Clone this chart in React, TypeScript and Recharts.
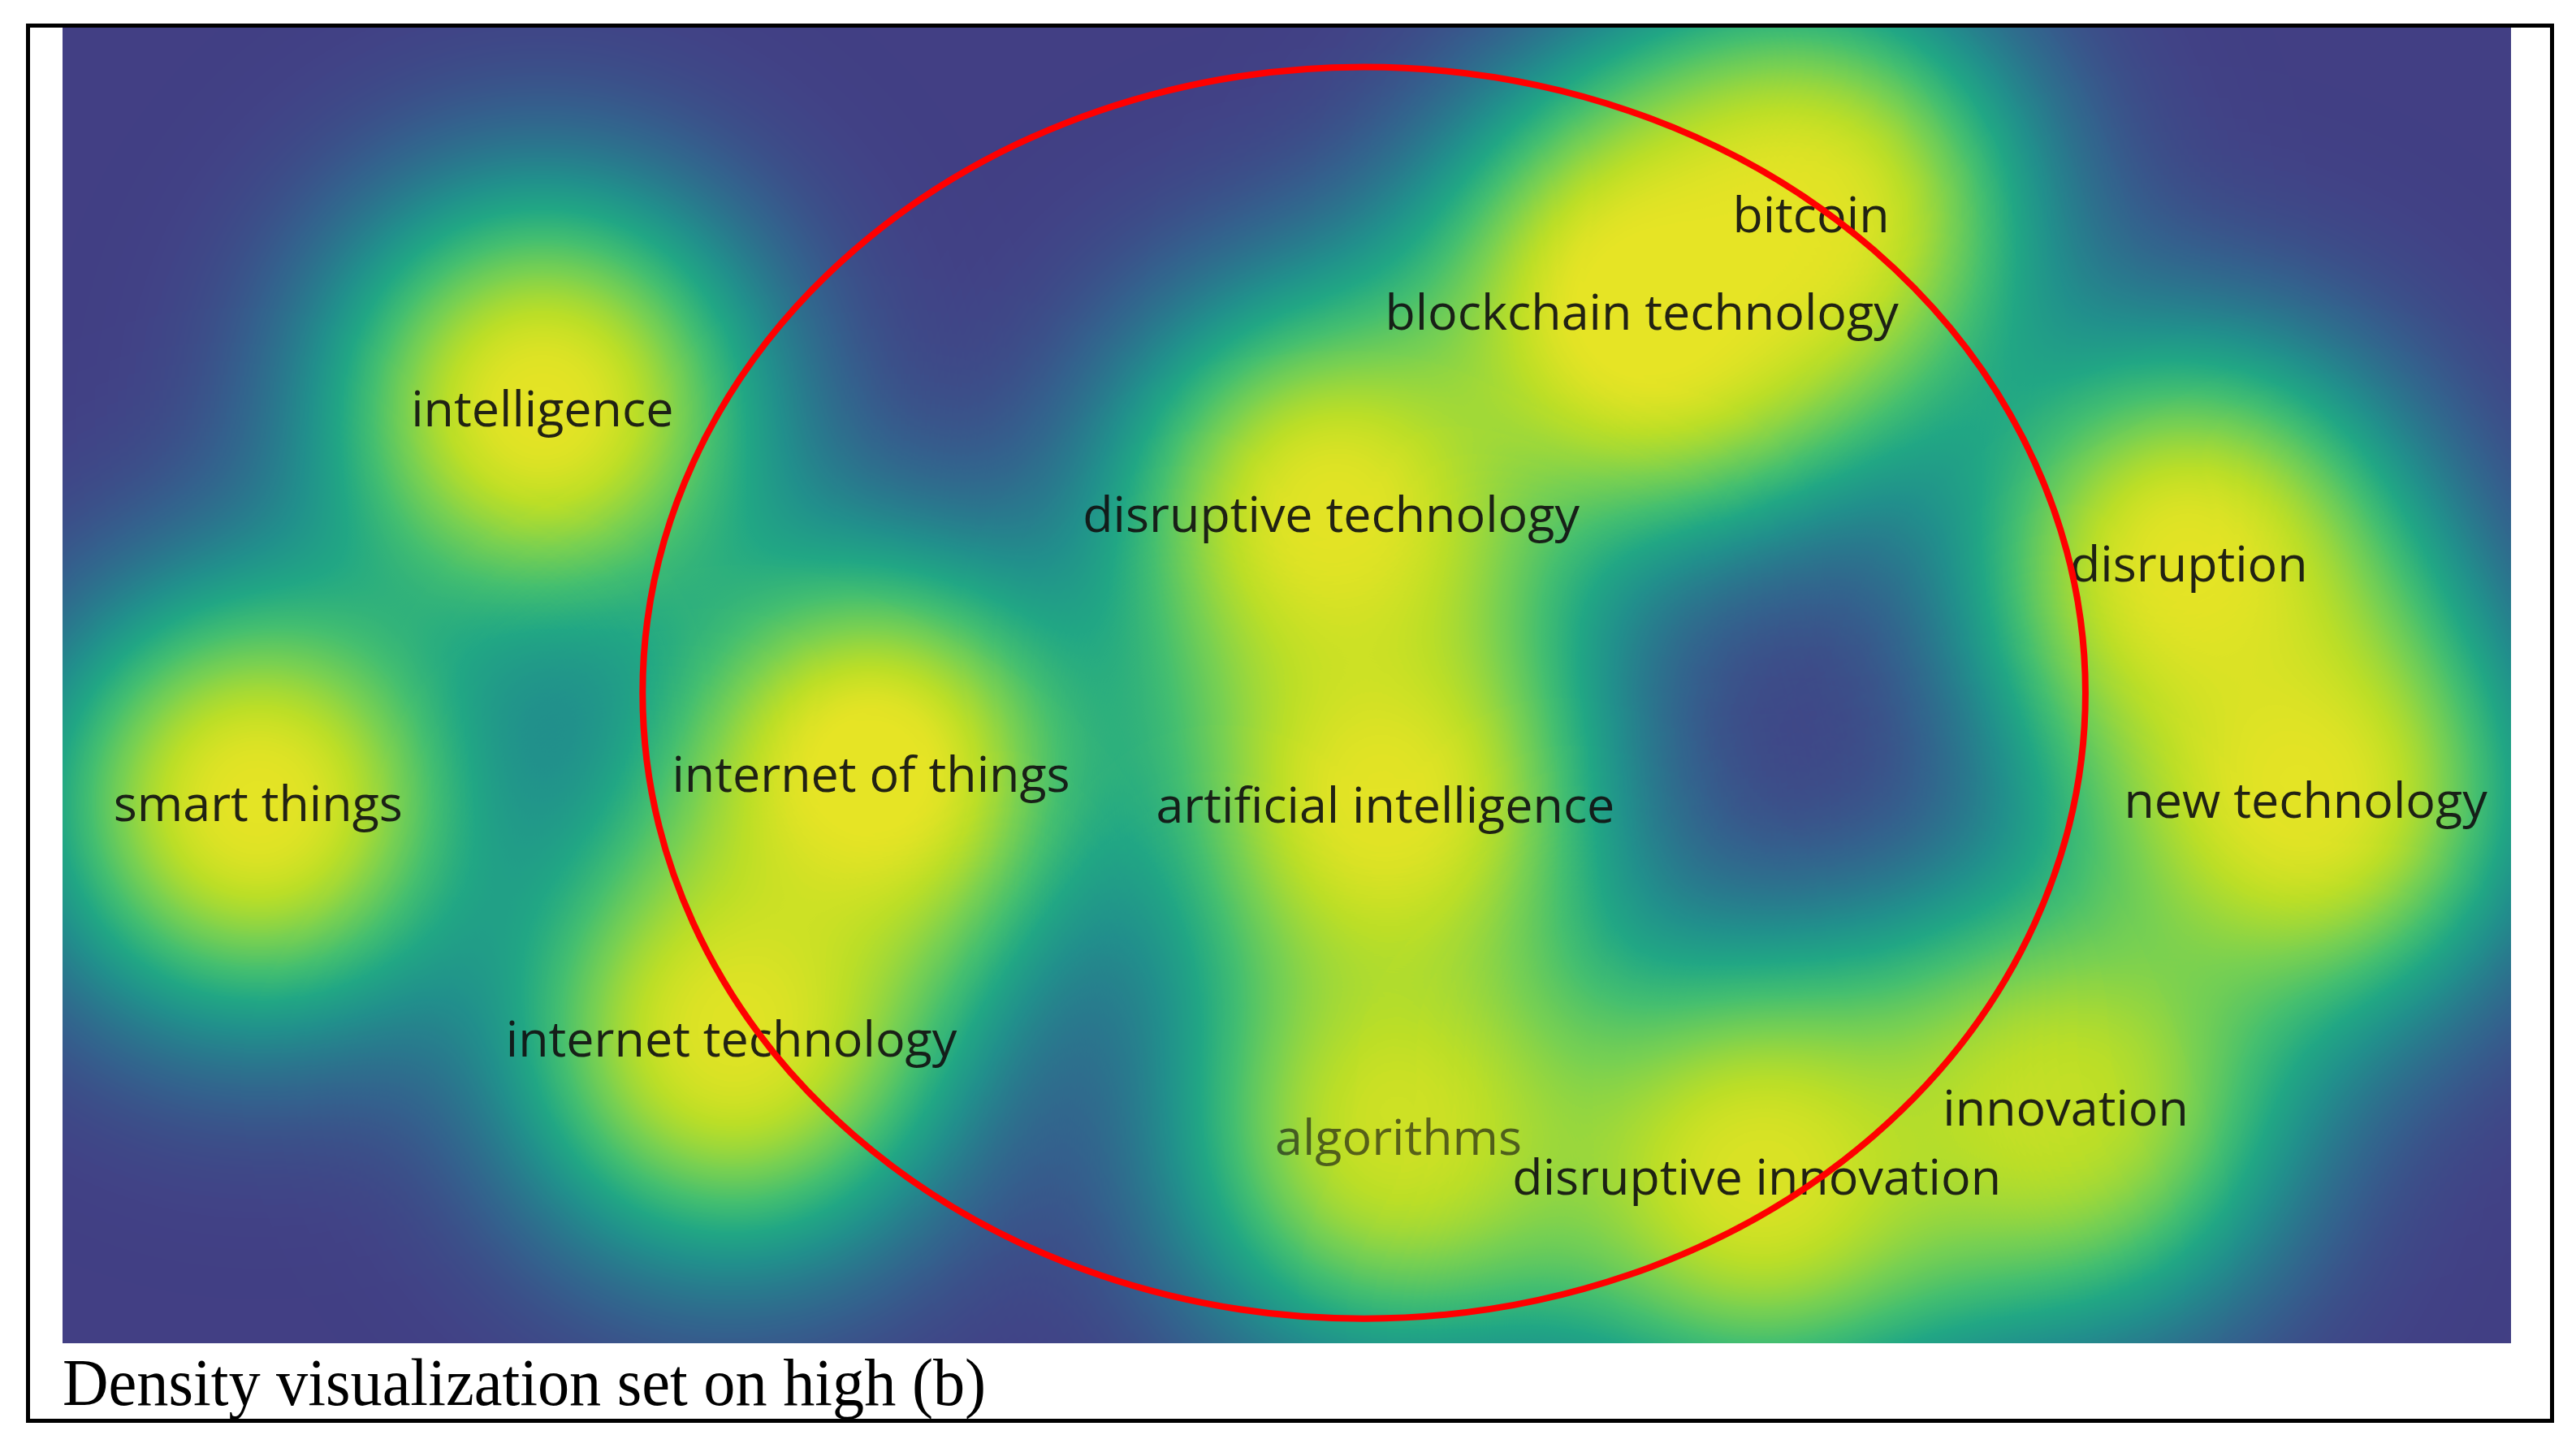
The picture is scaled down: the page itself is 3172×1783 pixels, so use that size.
import { ReferenceArea, Scatter, ScatterChart, XAxis, YAxis } from 'recharts';

// keyword map (map units: x 0..149 left->right, y 0..80 top->bottom)
const TERMS = [
  'bitcoin',
  'blockchain technology',
  'intelligence',
  'disruptive technology',
  'disruption',
  'internet of things',
  'smart things',
  'artificial intelligence',
  'new technology',
  'internet technology',
  'algorithms',
  'innovation',
  'disruptive innovation',
];
const TERM_X = [106.4, 96.1, 29.2, 77.2, 129.4, 49.2, 11.9, 80.5, 136.5, 40.7, 81.3, 121.9, 103.1];
const TERM_Y = [11.3, 17.2, 23.1, 29.5, 32.5, 45.3, 47.1, 47.2, 46.9, 61.4, 67.4, 65.6, 69.8];
const TERM_WEIGHT = [0.95, 1, 0.98, 0.97, 0.97, 1, 0.98, 0.97, 0.97, 0.96, 0.92, 0.9, 0.95];

const DIM_TERMS = ['algorithms'];

// red annotation ellipse, bounding box in map units
const FOCUS_X = [35.3, 123.1];
const FOCUS_Y = [2.4, 78.5];

const CAPTION = 'Density visualization set on high (b)';

const MAP_WIDTH = 3015;
const MAP_HEIGHT = 1620;
const KERNEL_SCALE = 306; // px
const KERNEL_POWER = 2.6;
const KERNEL_SPAN = 2.05; // kernel circle radius in scales
const DENSITY_TOP = 0.98; // density drawn as full yellow

const VIRIDIS = [
  '#440154', '#482475', '#414487', '#355f8d', '#2a788e', '#21918c',
  '#22a884', '#44bf70', '#7ad151', '#bddf26', '#fde725',
];

const hexToRgb = (hex: string) => [1, 3, 5].map((i) => parseInt(hex.slice(i, i + 2), 16) / 255);

const viridisAt = (t: number) => {
  const pos = Math.min(Math.max(t, 0), 1) * (VIRIDIS.length - 1);
  const i = Math.min(Math.floor(pos), VIRIDIS.length - 2);
  const f = pos - i;
  const a = hexToRgb(VIRIDIS[i]);
  const b = hexToRgb(VIRIDIS[i + 1]);
  return a.map((v, k) => v + (b[k] - v) * f);
};

// accumulated kernel density (alpha) -> viridis lookup tables
const buildTables = () => {
  const r: string[] = [];
  const g: string[] = [];
  const b: string[] = [];
  for (let i = 0; i <= 64; i++) {
    const a = i / 64;
    const x = Math.pow(Math.min(1, a / DENSITY_TOP), 1.15);
    const [cr, cg, cb] = viridisAt(0.185 + 0.78 * x);
    r.push(cr.toFixed(3));
    g.push(cg.toFixed(3));
    b.push(cb.toFixed(3));
  }
  return { r: r.join(' '), g: g.join(' '), b: b.join(' ') };
};

// flat-topped kernel profile for the gradient
const kernelStops = () => {
  const n = 32;
  const stops: { offset: number; opacity: number }[] = [];
  for (let i = 0; i <= n; i++) {
    const o = i / n;
    const s = o * KERNEL_SPAN;
    stops.push({ offset: o, opacity: i === n ? 0 : Math.exp(-Math.pow(s, KERNEL_POWER)) });
  }
  return stops;
};

const terms = TERMS.map((term, i) => ({
  term,
  x: TERM_X[i],
  y: TERM_Y[i],
  weight: TERM_WEIGHT[i],
}));

const KernelShape = (props: any) => {
  const { cx, cy, payload } = props;
  return (
    <circle
      cx={cx}
      cy={cy}
      r={KERNEL_SCALE * KERNEL_SPAN}
      fill="url(#kernel)"
      fillOpacity={payload.weight}
    />
  );
};

const LabelShape = (props: any) => {
  const { cx, cy, payload } = props;
  const dim = DIM_TERMS.includes(payload.term);
  return (
    <text
      x={cx}
      y={cy}
      textAnchor="middle"
      dominantBaseline="central"
      fontFamily="'Open Sans', sans-serif"
      fontSize={61}
      fill="#111"
      fillOpacity={dim ? 0.62 : 0.92}
    >
      {payload.term}
    </text>
  );
};

const EllipseShape = (props: any) => {
  const { x, y, width, height } = props;
  return (
    <ellipse
      cx={x + width / 2}
      cy={y + height / 2}
      rx={width / 2}
      ry={height / 2}
      fill="none"
      stroke="#ff0000"
      strokeWidth={8}
    />
  );
};

export default function App() {
  const tables = buildTables();
  return (
    <div style={{ position: 'absolute', left: 0, top: 0, width: 3172, height: 1783, background: '#fff' }}>
      <style>{'.density-layer { filter: url(#densityMap); }'}</style>
      <svg width={0} height={0} style={{ position: 'absolute' }}>
        <defs>
          <radialGradient id="kernel">
            {kernelStops().map((s, i) => (
              <stop key={i} offset={s.offset} stopColor="#000" stopOpacity={s.opacity} />
            ))}
          </radialGradient>
          <filter
            id="densityMap"
            filterUnits="userSpaceOnUse"
            x={0}
            y={0}
            width={MAP_WIDTH}
            height={MAP_HEIGHT}
            colorInterpolationFilters="sRGB"
          >
            <feColorMatrix
              type="matrix"
              values="0 0 0 1 0  0 0 0 1 0  0 0 0 1 0  0 0 0 0 1"
            />
            <feComponentTransfer>
              <feFuncR type="table" tableValues={tables.r} />
              <feFuncG type="table" tableValues={tables.g} />
              <feFuncB type="table" tableValues={tables.b} />
            </feComponentTransfer>
          </filter>
        </defs>
      </svg>

      <div
        style={{
          position: 'absolute',
          left: 32,
          top: 29,
          width: 3113,
          height: 1723,
          border: '5px solid #000',
          boxSizing: 'border-box',
        }}
      />

      <div style={{ position: 'absolute', left: 77, top: 34, width: MAP_WIDTH, height: MAP_HEIGHT }}>
        <ScatterChart width={MAP_WIDTH} height={MAP_HEIGHT} margin={{ top: 0, right: 0, bottom: 0, left: 0 }}>
          <XAxis type="number" dataKey="x" domain={[0, 149]} hide />
          <YAxis type="number" dataKey="y" domain={[0, 80]} reversed hide />
          <Scatter
            className="density-layer"
            data={terms}
            shape={KernelShape}
            isAnimationActive={false}
          />
          <Scatter data={terms} shape={LabelShape} isAnimationActive={false} />
          <ReferenceArea
            x1={FOCUS_X[0]}
            x2={FOCUS_X[1]}
            y1={FOCUS_Y[0]}
            y2={FOCUS_Y[1]}
            shape={EllipseShape}
            zIndex={2000}
          />
        </ScatterChart>
      </div>

      <svg width={3172} height={1783} style={{ position: 'absolute', left: 0, top: 0, pointerEvents: 'none' }}>
        <text
          x={77}
          y={1730}
          fontFamily="'Liberation Serif', serif"
          fontSize={82}
          fill="#000"
          transform="translate(77 0) scale(0.955 1) translate(-77 0)"
        >
          {CAPTION}
        </text>
      </svg>
    </div>
  );
}
